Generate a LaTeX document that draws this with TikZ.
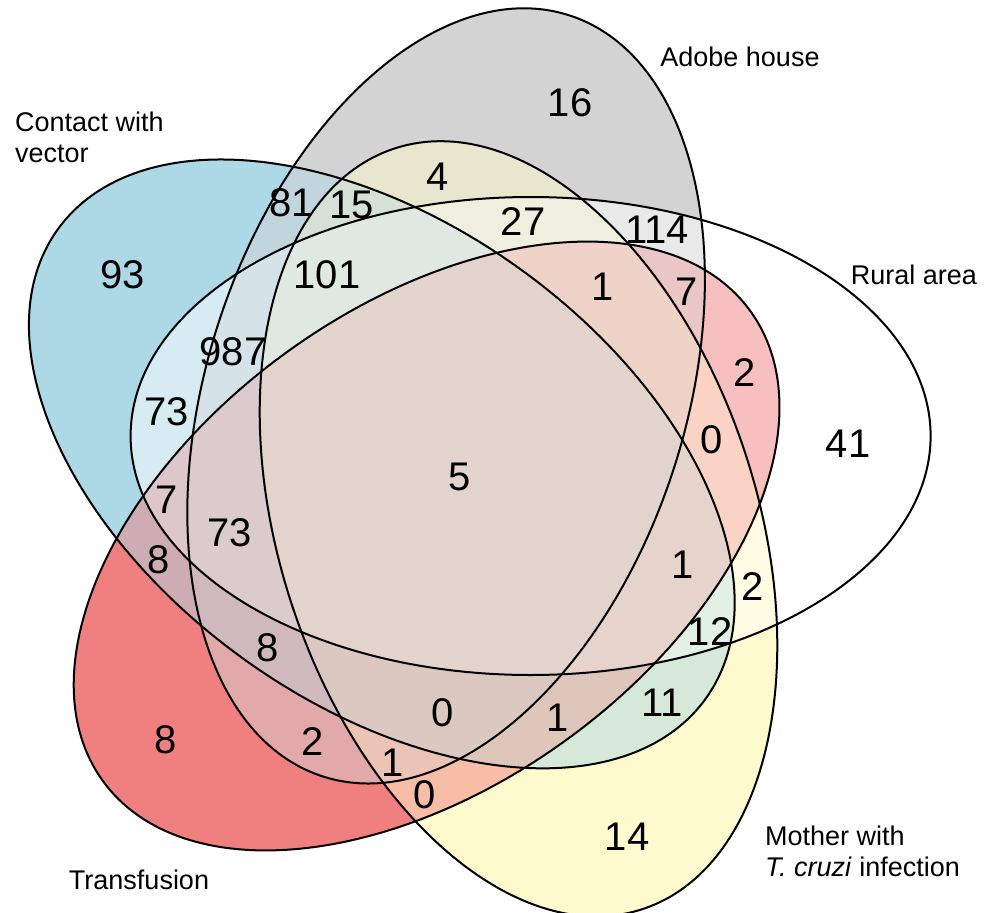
\documentclass[tikz,border=0pt]{standalone}
\usepackage{fontspec}
\setmainfont{Liberation Sans}

\begin{document}
\begin{tikzpicture}[x=1pt,y=-1pt,
  set ell/.style={x radius=400,y radius=239},
  set line/.style={draw=black,line width=2pt},
  num node/.style={inner sep=0pt,font=\fontsize{40}{44}\selectfont},
  set label/.style={inner sep=0pt,align=left,font=\fontsize{27}{31}\selectfont}]

  \useasboundingbox (0,0) rectangle (988,913);

  \coordinate (vec)    at (381.8,463.9);
  \coordinate (adobe)  at (446.1,395.9);
  \coordinate (rural)  at (530.6,436.0);
  \coordinate (mother) at (518.5,528.8);
  \coordinate (transf) at (426.6,546.0);

  % each region gets the mean colour of the sets it lies in
  \foreach \k in {1,...,5}{
    \foreach \s in {1,...,31}{
      \pgfmathtruncatemacro\ba{mod(\s,2)}
      \pgfmathtruncatemacro\bb{mod(floor(\s/2),2)}
      \pgfmathtruncatemacro\bc{mod(floor(\s/4),2)}
      \pgfmathtruncatemacro\bd{mod(floor(\s/8),2)}
      \pgfmathtruncatemacro\be{mod(floor(\s/16),2)}
      \pgfmathtruncatemacro\nset{\ba+\bb+\bc+\bd+\be}
      \ifnum\nset=\k
        \pgfmathtruncatemacro\rval{(\ba*173+\bb*211+\bc*255+\bd*255+\be*240)/\nset}
        \pgfmathtruncatemacro\gval{(\ba*216+\bb*211+\bc*255+\bd*250+\be*128)/\nset}
        \pgfmathtruncatemacro\bval{(\ba*230+\bb*211+\bc*255+\bd*205+\be*128)/\nset}
        \definecolor{regcol}{RGB}{\rval,\gval,\bval}
        \begin{scope}
          \ifnum\ba=1 \clip (vec) circle[set ell,rotate=-36];\fi
          \ifnum\bb=1 \clip (adobe) circle[set ell,rotate=72];\fi
          \ifnum\bc=1 \clip (rural) circle[set ell,rotate=0];\fi
          \ifnum\bd=1 \clip (mother) circle[set ell,rotate=-72];\fi
          \ifnum\be=1 \clip (transf) circle[set ell,rotate=36];\fi
          \fill[regcol] (0,0) rectangle (988,913);
        \end{scope}
      \fi
    }
  }

  \draw[set line] (vec) circle[set ell,rotate=-36];
  \draw[set line] (adobe) circle[set ell,rotate=72];
  \draw[set line] (rural) circle[set ell,rotate=0];
  \draw[set line] (mother) circle[set ell,rotate=-72];
  \draw[set line] (transf) circle[set ell,rotate=36];

  \node[num node] (1)  at (570,103) {16};
  \node[num node] (2)  at (438,177) {4};
  \node[num node] (3)  at (292,203) {81};
  \node[num node] (4)  at (352,205) {15};
  \node[num node] (5)  at (523,222) {27};
  \node[num node] (6)  at (657,230) {114};
  \node[num node] (7)  at (123,275) {93};
  \node[num node] (8)  at (327,275) {101};
  \node[num node] (9)  at (603,287) {1};
  \node[num node] (10) at (687,292) {7};
  \node[num node] (11) at (745,373) {2};
  \node[num node] (12) at (233,352) {987};
  \node[num node] (13) at (167,412) {73};
  \node[num node] (14) at (712,440) {0};
  \node[num node] (15) at (848,444) {41};
  \node[num node] (16) at (460,477) {5};
  \node[num node] (17) at (167,500) {7};
  \node[num node] (18) at (230,533) {73};
  \node[num node] (19) at (159,560) {8};
  \node[num node] (20) at (683,565) {1};
  \node[num node] (21) at (753,587) {2};
  \node[num node] (22) at (710,632) {12};
  \node[num node] (23) at (268,648) {8};
  \node[num node] (24) at (443,713) {0};
  \node[num node] (25) at (662,703) {11};
  \node[num node] (26) at (558,718) {1};
  \node[num node] (27) at (166,740) {8};
  \node[num node] (28) at (313,742) {2};
  \node[num node] (29) at (393,763) {1};
  \node[num node] (30) at (425,795) {0};
  \node[num node] (31) at (627,837) {14};

  \node[set label,anchor=north west] (s1) at (15,112) {Contact with\\vector};
  \node[set label] (s2) at (740,57) {Adobe house};
  \node[set label] (s3) at (914,275) {Rural area};
  \node[set label,anchor=north west] (s4) at (765,826) {Mother with\\\textit{T. cruzi} infection};
  \node[set label] (s5) at (139,880) {Transfusion};
\end{tikzpicture}
\end{document}
